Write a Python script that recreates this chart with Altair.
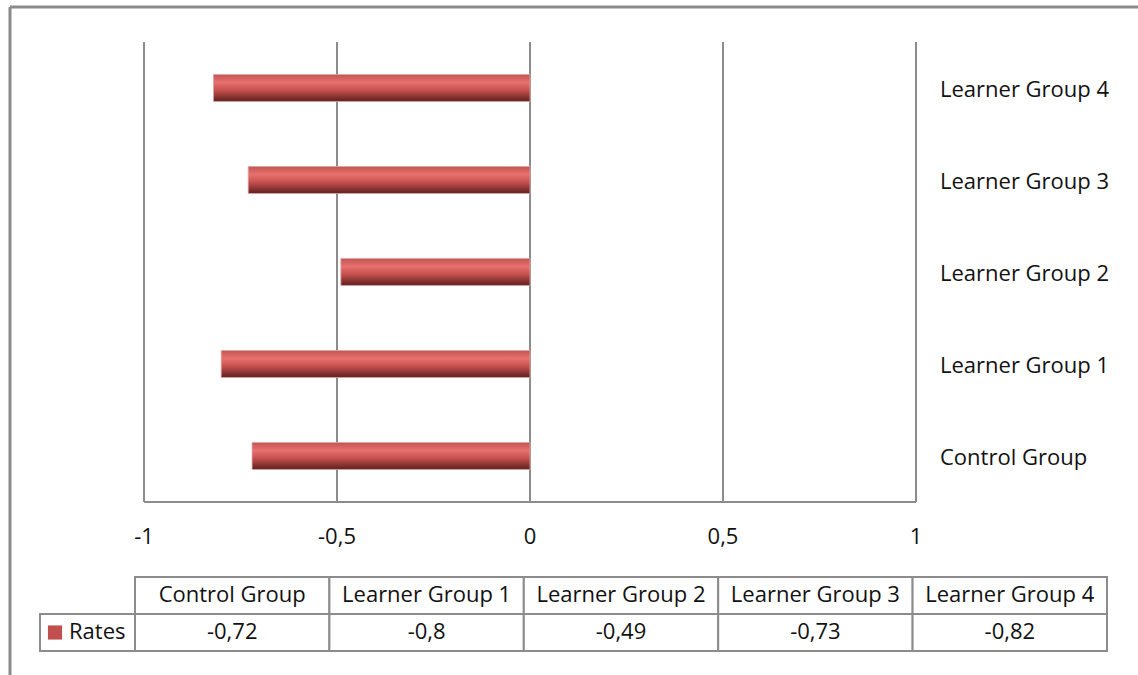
import altair as alt
import pandas as pd

# ---- data ----
groups = ["Control Group", "Learner Group 1", "Learner Group 2", "Learner Group 3", "Learner Group 4"]
rates = [-0.72, -0.8, -0.49, -0.73, -0.82]
series_name = "Rates"
tick_values = [-1, -0.5, 0, 0.5, 1]
tick_labels = ["-1", "-0,5", "0", "0,5", "1"]
rate_labels = [str(v).replace(".", ",") for v in rates]
table_rows = ["header", "value"]

# ---- layout / style ----
W, H = 1138, 675
PLOT_L, PLOT_R, PLOT_T, PLOT_B = 144, 916, 42, 502
TABLE_L, COL0_R, TABLE_R = 40, 135, 1107
TABLE_T, TABLE_B = 577, 651
FONT = "Open Sans"
FS = 22
GRID = "#8c8c8c"
TXT = "#111111"

bars_df = pd.DataFrame({"group": groups, "rate": rates})
ticks_df = pd.DataFrame({"tick": tick_values, "label": tick_labels})
table_df = pd.DataFrame({
    "group": groups * 2,
    "row": [table_rows[0]] * len(groups) + [table_rows[1]] * len(groups),
    "text": groups + rate_labels,
})
legend_df = pd.DataFrame({"series": [series_name], "row": [table_rows[1]]})
frame_df = pd.DataFrame({"k": [0]})

x_scale = alt.Scale(domain=[-1, 1], range=[PLOT_L, PLOT_R], nice=False)
y_scale = alt.Scale(domain=groups[::-1], range=[PLOT_T, PLOT_B],
                    paddingInner=0.707, paddingOuter=0.3535)
tx_scale = alt.Scale(domain=groups, range=[COL0_R, TABLE_R], paddingInner=0, paddingOuter=0)
ty_scale = alt.Scale(domain=table_rows, range=[TABLE_T, TABLE_B], paddingInner=0, paddingOuter=0)
lx_scale = alt.Scale(domain=[0, 1], range=[TABLE_L, COL0_R], nice=False, zero=False)

grad = alt.Gradient(
    gradient="linear", x1=0, x2=0, y1=0, y2=1,
    stops=[
        alt.GradientStop(color="#c45452", offset=0),
        alt.GradientStop(color="#e8716f", offset=0.3),
        alt.GradientStop(color="#c24e4c", offset=0.6),
        alt.GradientStop(color="#5e1f1e", offset=1),
    ],
)

frame_top = alt.Chart(frame_df).mark_rule(color="#8a8a8a", strokeWidth=3).encode(
    x=alt.value(10), x2=alt.value(W), y=alt.value(7))
frame_left = alt.Chart(frame_df).mark_rule(color="#8a8a8a", strokeWidth=3).encode(
    x=alt.value(10), y=alt.value(7), y2=alt.value(H))

grid = alt.Chart(ticks_df).mark_rule(color=GRID, strokeWidth=2).encode(
    x=alt.X("tick:Q", scale=x_scale, axis=None),
    y=alt.value(PLOT_T), y2=alt.value(PLOT_B))

baseline = alt.Chart(ticks_df).mark_rule(color=GRID, strokeWidth=2).encode(
    x=alt.X("min(tick):Q", scale=x_scale, axis=None),
    x2=alt.X2("max(tick)"),
    y=alt.value(PLOT_B))

bars = alt.Chart(bars_df).mark_bar(fill=grad, stroke="#d9a6a5", strokeWidth=0.8).encode(
    x=alt.X("rate:Q", scale=x_scale, axis=None),
    x2=alt.X2(datum=0),
    y=alt.Y("group:N", scale=y_scale, axis=None),
)

tick_text = alt.Chart(ticks_df).mark_text(font=FONT, fontSize=FS, color=TXT, baseline="middle").encode(
    x=alt.X("tick:Q", scale=x_scale, axis=None),
    y=alt.value(537),
    text="label:N")

cat_text = alt.Chart(bars_df).mark_text(font=FONT, fontSize=FS, color=TXT, align="left",
                                        baseline="middle", dy=2).encode(
    y=alt.Y("group:N", scale=y_scale, axis=None),
    x=alt.value(940),
    text="group:N")

cells = alt.Chart(table_df).mark_rect(fill="white", stroke=GRID, strokeWidth=2).encode(
    x=alt.X("group:N", scale=tx_scale, axis=None),
    y=alt.Y("row:N", scale=ty_scale, axis=None))

cell_text = alt.Chart(table_df).mark_text(font=FONT, fontSize=FS, color=TXT, baseline="middle",
                                          dy=-1).encode(
    x=alt.X("group:N", scale=tx_scale, axis=None),
    y=alt.Y("row:N", scale=ty_scale, axis=None),
    text="text:N")

legend_cell = alt.Chart(legend_df).mark_rect(fill="white", stroke=GRID, strokeWidth=2).encode(
    x=alt.X(datum=0, scale=lx_scale, axis=None),
    x2=alt.X2(datum=1),
    y=alt.Y("row:N", scale=ty_scale, axis=None))

legend_swatch = alt.Chart(legend_df).mark_square(size=200, fill="#c0504d", opacity=1, xOffset=15).encode(
    x=alt.X(datum=0, scale=lx_scale, axis=None),
    y=alt.Y("row:N", scale=ty_scale, axis=None))

legend_text = alt.Chart(legend_df).mark_text(font=FONT, fontSize=FS, color=TXT, align="left",
                                             baseline="middle", dx=29, dy=-1).encode(
    x=alt.X(datum=0, scale=lx_scale, axis=None),
    y=alt.Y("row:N", scale=ty_scale, axis=None),
    text="series:N")

chart = alt.layer(
    frame_top, frame_left, grid, baseline, bars, tick_text, cat_text,
    cells, cell_text, legend_cell, legend_swatch, legend_text,
).resolve_scale(x="independent", y="independent").properties(
    width=W, height=H, padding=0, autosize="none", background="white"
).configure_view(strokeWidth=0)

chart.save("out.html", embed_options={"renderer": "svg", "actions": False})
